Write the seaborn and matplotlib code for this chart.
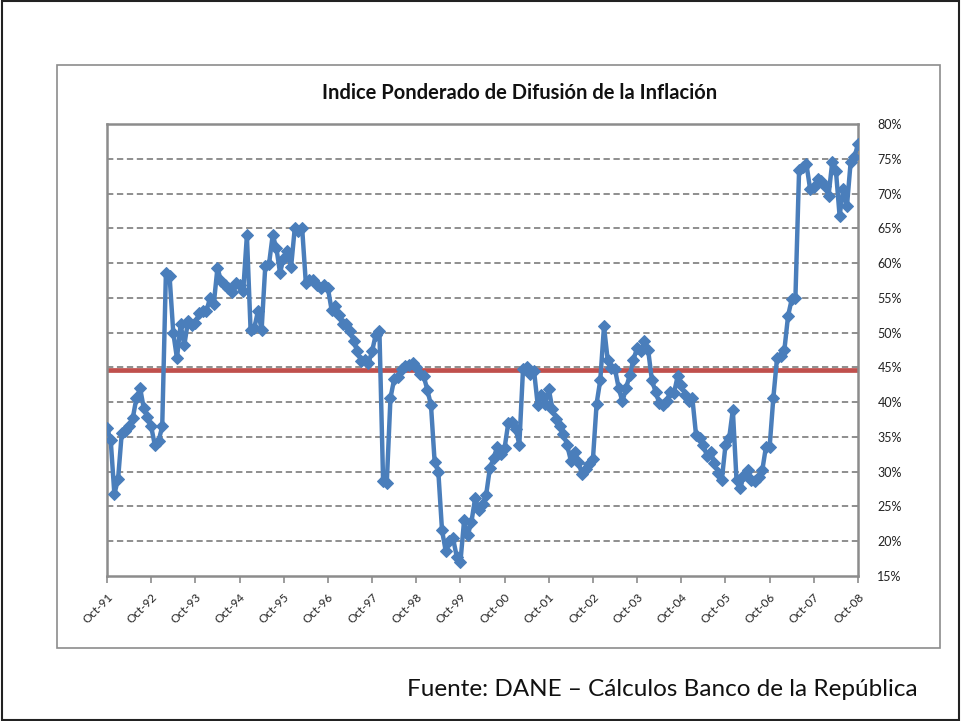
import matplotlib
matplotlib.use("Agg")
import matplotlib.pyplot as plt
import matplotlib.ticker as mtick
from matplotlib.patches import Rectangle
import numpy as np
import pandas as pd
import seaborn as sns

# monthly index, Oct-91 .. Oct-08 (%)
diffusion = [
    36.3, 34.6, 26.8, 28.9, 35.5, 35.8, 36.5, 37.7, 40.6, 42.0, 39.1, 37.9,
    36.5, 33.8, 34.4, 36.5, 58.6, 58.1, 50.0, 46.3, 51.2, 48.2, 51.6, 51.1,
    51.4, 52.8, 53.1, 53.1, 55.0, 54.1, 59.3, 57.4, 56.9, 56.4, 55.9, 57.2,
    56.9, 56.0, 64.0, 50.4, 50.6, 53.1, 50.4, 59.6, 59.8, 64.0, 62.2, 58.6,
    60.8, 61.7, 59.4, 65.0, 64.6, 65.1, 57.2, 57.6, 57.5, 56.9, 56.4, 56.9,
    56.4, 53.3, 53.8, 52.6, 51.2, 51.2, 50.2, 48.8, 47.3, 45.9, 46.0, 45.6,
    47.3, 49.7, 50.2, 28.6, 28.4, 40.6, 43.3, 43.6, 44.7, 45.2, 45.4, 45.7,
    45.0, 44.0, 43.8, 41.8, 39.6, 31.4, 30.0, 21.6, 18.6, 20.0, 20.4, 17.8,
    17.0, 23.0, 20.9, 22.8, 26.2, 24.5, 25.4, 26.7, 30.5, 31.9, 33.6, 32.6,
    33.4, 37.0, 37.2, 36.2, 33.9, 44.7, 45.0, 44.0, 44.5, 39.6, 41.0, 39.8,
    41.9, 39.0, 37.6, 36.6, 35.4, 33.8, 31.6, 32.8, 31.4, 29.7, 30.4, 31.1,
    31.8, 39.8, 43.2, 50.9, 46.1, 44.9, 44.7, 42.0, 40.1, 42.0, 43.9, 46.1,
    47.8, 47.3, 48.8, 47.5, 43.2, 41.5, 39.9, 39.6, 40.1, 41.5, 41.3, 43.7,
    42.5, 41.1, 40.1, 40.6, 35.3, 34.8, 33.8, 32.2, 32.9, 31.2, 29.8, 28.8,
    33.8, 34.8, 38.9, 28.8, 27.6, 29.5, 30.2, 28.8, 28.6, 29.3, 30.2, 33.6,
    33.6, 40.6, 46.3, 46.6, 47.5, 52.4, 54.8, 55.0, 73.4, 73.8, 74.2, 70.6,
    70.9, 72.1, 71.8, 71.1, 69.7, 74.5, 73.3, 66.8, 70.6, 68.2, 74.5, 75.2,
    77.1,
]
threshold = 44.6
tick_labels = ["Oct-91", "Oct-92", "Oct-93", "Oct-94", "Oct-95", "Oct-96",
               "Oct-97", "Oct-98", "Oct-99", "Oct-00", "Oct-01", "Oct-02",
               "Oct-03", "Oct-04", "Oct-05", "Oct-06", "Oct-07", "Oct-08"]
y_ticks = [15, 20, 25, 30, 35, 40, 45, 50, 55, 60, 65, 70, 75, 80]

TITLE = "Indice Ponderado de Difusión de la Inflación"
SOURCE = "Fuente: DANE – Cálculos Banco de la República"

BLUE = "#4a7ebb"
RED = "#c0504d"
GRID = "#868686"

sns.set_theme(style="white")
plt.rcParams["font.family"] = ["Lato", "DejaVu Sans"]

df = pd.DataFrame({"month": np.arange(len(diffusion)),
                   "value": np.array(diffusion) / 100})

fig = plt.figure(figsize=(9.61, 7.21), dpi=100)
fig.patch.set_facecolor("white")
ax = fig.add_axes([107 / 961, 1 - 576 / 721, 751 / 961, 452 / 721])

# slide frame and chart-area frame
fig.patches.append(Rectangle((0.002, 0.002), 0.996, 0.996, transform=fig.transFigure,
                             fill=False, edgecolor="#222222", linewidth=1.5))
fig.patches.append(Rectangle((57 / 961, 1 - 648 / 721), 883 / 961, 583 / 721,
                             transform=fig.transFigure, fill=False,
                             edgecolor="#8c8c8c", linewidth=1.2))

for v in y_ticks[1:-1]:
    ax.axhline(v / 100, color=GRID, linestyle=(0, (3.5, 2)), linewidth=1.3, zorder=1)

ax.axhline(threshold / 100, color=RED, linewidth=3.4, zorder=2)

sns.lineplot(data=df, x="month", y="value", ax=ax, color=BLUE, linewidth=3.2,
             marker="D", markersize=6.5, markeredgecolor=BLUE, zorder=3)

ax.set_xlim(0, len(diffusion) - 1)
ax.set_ylim(0.15, 0.80)
ax.set_xticks(np.arange(0, len(diffusion), 12))
ax.set_xticklabels(tick_labels, rotation=45, ha="right", rotation_mode="anchor",
                   fontsize=8.5, color="#222222")
ax.set_yticks([v / 100 for v in y_ticks])
ax.yaxis.set_major_formatter(mtick.PercentFormatter(1.0, decimals=0))
ax.yaxis.tick_right()
ax.tick_params(axis="y", labelsize=9, length=0, pad=14, colors="#222222")
ax.tick_params(axis="x", length=5, width=1.2, color="#8c8c8c", pad=6,
               bottom=True, direction="out")
ax.set_xlabel("")
ax.set_ylabel("")

for side in ["left", "right", "top", "bottom"]:
    ax.spines[side].set_visible(True)
    ax.spines[side].set_color("#8c8c8c")
    ax.spines[side].set_linewidth(1.8)

fig.text(520 / 961, 1 - 93 / 721, TITLE, ha="center", va="center",
         fontsize=14.5, fontweight="bold", color="#111111")
fig.text(918 / 961, 1 - 690 / 721, SOURCE, ha="right", va="center",
         fontsize=17.5, color="#111111")

fig.savefig("out.png", dpi=100)
plt.close(fig)
